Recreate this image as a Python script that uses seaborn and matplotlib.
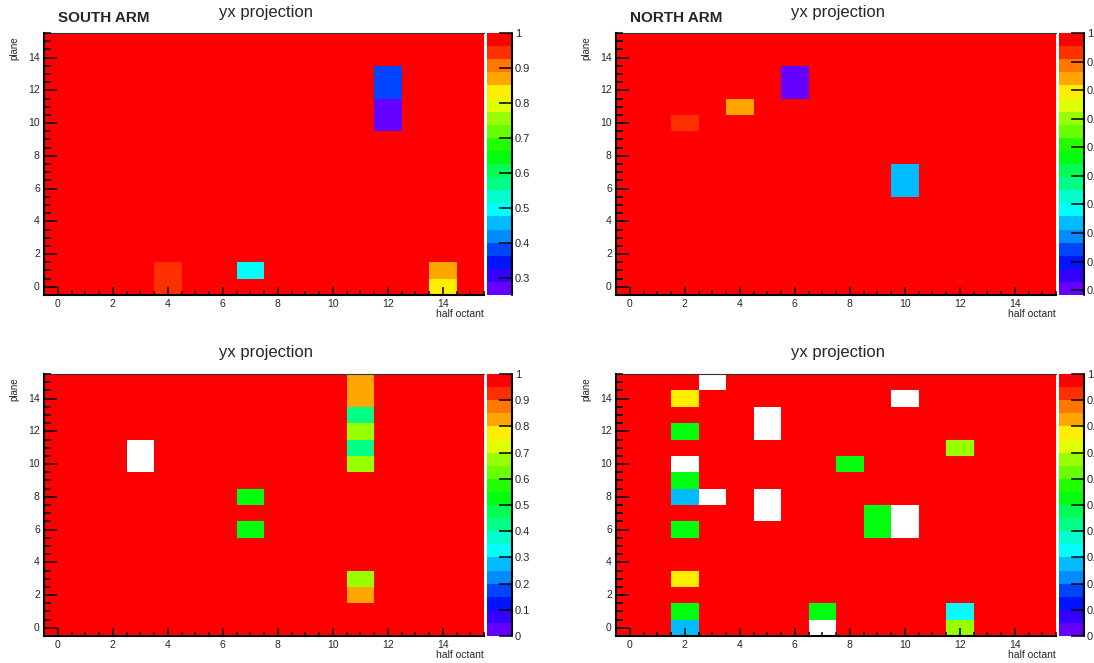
import colorsys
import numpy as np
import matplotlib
matplotlib.use("Agg")
import matplotlib.pyplot as plt
from matplotlib.colors import ListedColormap
from matplotlib.ticker import MultipleLocator, FormatStrFormatter
import seaborn as sns

# ---------------- data ----------------
half_octants = list(range(16))          # x bins
planes = list(range(16))                # y bins
x_tick_values = [0, 2, 4, 6, 8, 10, 12, 14]
y_tick_values = [0, 2, 4, 6, 8, 10, 12, 14]
cbar_tick_values = [0.0, 0.1, 0.2, 0.3, 0.4, 0.5, 0.6, 0.7, 0.8, 0.9, 1.0]

base_value = 1.0   # every cell not listed below is at 1

# (half octant, plane, value); value 0 = empty bin (not painted)
south_cells = [(4, 0, 0.95), (4, 1, 0.95), (7, 1, 0.50), (14, 1, 0.87), (14, 0, 0.83),
               (12, 12, 0.38), (12, 13, 0.38), (12, 10, 0.2515), (12, 11, 0.2515)]
north_cells = [(2, 10, 0.93), (4, 11, 0.84), (6, 12, 0.083), (6, 13, 0.083),
               (10, 6, 0.33), (10, 7, 0.33)]
lower_left_cells = [(3, 10, 0.0), (3, 11, 0.0), (11, 15, 0.82), (11, 14, 0.82),
                    (11, 13, 0.42), (11, 12, 0.67), (11, 11, 0.42), (11, 10, 0.67),
                    (7, 8, 0.52), (7, 6, 0.52), (11, 3, 0.67), (11, 2, 0.82)]
lower_right_cells = [(3, 15, 0.0), (2, 14, 0.77), (10, 14, 0.0), (5, 13, 0.0), (5, 12, 0.0),
                     (2, 12, 0.52), (12, 11, 0.67), (2, 10, 0.0), (8, 10, 0.52), (2, 9, 0.52),
                     (2, 8, 0.27), (3, 8, 0.0), (5, 8, 0.0), (5, 7, 0.0), (9, 7, 0.52),
                     (9, 6, 0.52), (10, 7, 0.0), (10, 6, 0.0), (2, 6, 0.52), (2, 3, 0.77),
                     (2, 1, 0.52), (2, 0, 0.27), (7, 1, 0.52), (7, 0, 0.0), (12, 1, 0.32),
                     (12, 0, 0.67)]

z_mins = [0.2515, 0.083, 0.0, 0.0]
z_max = 1.0
panel_cells = [south_cells, north_cells, lower_left_cells, lower_right_cells]
arm_labels = ["SOUTH ARM", "NORTH ARM", "", ""]
title_text = "yx projection"
x_label = "half octant"
y_label = "plane"

# ---------------- style ----------------
sns.set_style("white")
plt.rcParams["font.family"] = ["Liberation Sans", "DejaVu Sans"]
plt.rcParams["axes.axisbelow"] = False

# ROOT "pretty" palette (50 colours, violet -> red), 20 contour levels
n_levels = 20
pretty = [colorsys.hls_to_rgb((280 - (i + 1) * 280 / 50) / 360.0, 0.5, 1.0) for i in range(50)]
level_colors = [pretty[int((j + 0.99) * 50 / n_levels)] for j in range(n_levels)]
cmap = ListedColormap(level_colors)

W, H = 1094, 663
fig = plt.figure(figsize=(W / 100, H / 100), dpi=100)


def frac(left, top, width, height):
    return [left / W, 1 - (top + height) / H, width / W, height / H]


panel_origins = [(44, 33), (616, 33), (44, 374), (616, 374)]
PW, PH = 440, 262

for k, (px, py) in enumerate(panel_origins):
    grid = np.full((len(planes), len(half_octants)), base_value)
    for (hx, py_, v) in panel_cells[k]:
        grid[py_, hx] = v
    mask = grid == 0.0

    ax = fig.add_axes(frac(px, py, PW, PH))
    cax = fig.add_axes(frac(px + 443, py, 25, PH))
    ax.set_facecolor("white")
    sns.heatmap(grid, ax=ax, cmap=cmap, vmin=z_mins[k], vmax=z_max, mask=mask,
                cbar=True, cbar_ax=cax, xticklabels=False, yticklabels=False,
                linewidths=0)
    ax.set_axisbelow(False)
    cax.set_axisbelow(False)
    ax.set_xlim(0, 16)
    ax.set_ylim(0, 16)

    ax.set_xticks([v + 0.5 for v in x_tick_values])
    ax.set_xticklabels([str(v) for v in x_tick_values], rotation=0)
    ax.set_yticks([v + 0.5 for v in y_tick_values])
    ax.set_yticklabels([str(v) for v in y_tick_values], rotation=0, va="center")
    ax.xaxis.set_minor_locator(MultipleLocator(0.5))
    ax.yaxis.set_minor_locator(MultipleLocator(0.5))
    ax.tick_params(axis="x", which="major", direction="in", length=5.5, width=1.1,
                   color="black", labelsize=7.5, pad=3, bottom=True, top=False)
    ax.tick_params(axis="x", which="minor", direction="in", length=2.6, width=1.1,
                   color="black", bottom=True, top=False)
    ax.tick_params(axis="y", which="major", direction="in", length=9.5, width=1.1,
                   color="black", labelsize=7.5, pad=3, left=True, right=False)
    ax.tick_params(axis="y", which="minor", direction="in", length=4.7, width=1.1,
                   color="black", left=True, right=False)

    for s in ["left", "bottom"]:
        ax.spines[s].set_visible(True)
        ax.spines[s].set_linewidth(1.5)
        ax.spines[s].set_color("black")
    ax.spines["top"].set_visible(True)
    ax.spines["top"].set_linewidth(0.8)
    ax.spines["top"].set_color("#333333")
    ax.spines["right"].set_visible(False)

    cbar = ax.collections[0].colorbar
    cbar.outline.set_visible(False)
    cbar.set_ticks([t for t in cbar_tick_values if z_mins[k] - 1e-9 <= t <= z_max + 1e-9])
    cbar.ax.yaxis.set_major_formatter(FormatStrFormatter("%g"))
    cbar.ax.tick_params(axis="y", which="major", direction="in", length=9.5, width=1.1,
                        color="black", labelsize=8, pad=2, right=True, left=False)
    cbar.ax.minorticks_off()
    cax.plot([1, 1], [0, 1], transform=cax.transAxes, color="black", lw=1.5,
             clip_on=False)

    # texts
    fig.text((px + 222) / W, 1 - (py - 21) / H, title_text, ha="center", va="center",
             fontsize=12)
    if arm_labels[k]:
        fig.text((px + 14) / W, 1 - (py - 15) / H, arm_labels[k], ha="left",
                 va="center", fontsize=11, fontweight="bold")
    fig.text((px - 30) / W, 1 - (py + 3) / H, y_label, rotation=90, ha="center",
             va="top", fontsize=7)
    fig.text((px + PW) / W, 1 - (py + PH + 19) / H, x_label, ha="right", va="center",
             fontsize=7.5)

fig.savefig("out.png", dpi=100)
